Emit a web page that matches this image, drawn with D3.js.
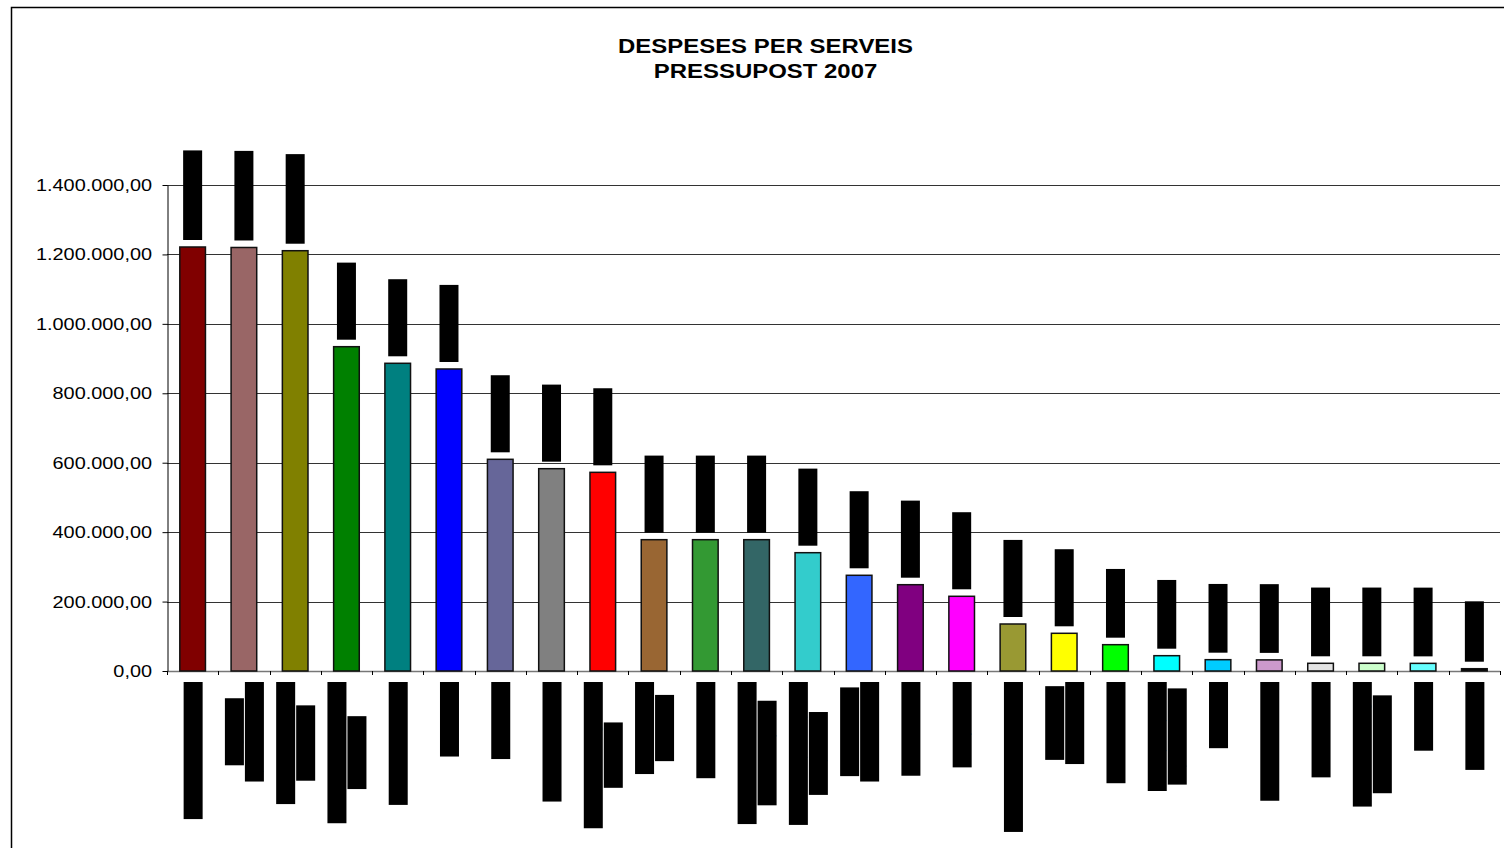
<!DOCTYPE html>
<html>
<head>
<meta charset="utf-8">
<script src="https://cdn.jsdelivr.net/npm/d3@7"></script>
<style>
body { margin: 0; background: #fff; }
text { font-family: "Liberation Sans", Arial, sans-serif; }
</style>
</head>
<body>
<div id="chart"></div>
<script>
var titleLines = ["DESPESES PER SERVEIS", "PRESSUPOST 2007"];

var categories = [
    "Recollida de residus",
    "Seguretat\ni protecció civil",
    "Òrgans de govern\ni secretaria",
    "Acció social, infància\ni gent gran",
    "Manteniment urbà",
    "Urbanisme",
    "Enllumenat",
    "Escola de música",
    "Administració general\ni finances",
    "Medi ambient\ni paisatge",
    "Parcs i jardins",
    "Promoció econòmica\nlocal i ocupació",
    "Joventut, participació\ni cooperació",
    "Comunicació\ni mitjans locals",
    "Ensenyament",
    "Neteja viària",
    "Manteniment d'edificis",
    "Habitatge i\nrehabilitació",
    "Esports i lleure",
    "Transport públic\ni aparcaments",
    "Cementiri",
    "Biblioteca pública",
    "Mercats i fires",
    "Noves tecnologies\ni administració",
    "Solidaritat",
    "Salut pública"
];

var values = [
    1221400, 1220000, 1210700, 934200, 886400, 870000, 609800, 582800, 572300,
    378300, 378300, 378300, 340800, 275700, 248600, 215200, 135400, 108600,
    75800, 44100, 32600, 32000, 22200, 22200, 22000, 6600
];

var colors = [
    "#800000", "#996666", "#808000", "#008000", "#008080", "#0000ff", "#666699",
    "#808080", "#ff0000", "#996633", "#339933", "#336666", "#33cccc", "#3366ff",
    "#800080", "#ff00ff", "#999933", "#ffff00", "#00ff00", "#00ffff", "#00ccff",
    "#cc99cc", "#e3e3e3", "#ccffcc", "#66ffff", "#000000"
];

var yTicks = [0, 200000, 400000, 600000, 800000, 1000000, 1200000, 1400000];

var width = 1504,
    height = 848,
    plot = { left: 167, right: 1500, top: 185, bottom: 671 },
    stretch = 1.15;

var cat = d3.formatLocale({ decimal: ",", thousands: ".", grouping: [3], currency: ["", " €"] });
var fmt = cat.format(",.2f");

var svg = d3.select("#chart")
    .append("svg")
    .attr("width", width)
    .attr("height", height);

svg.append("rect")
    .attr("x", 11.5)
    .attr("y", 7.5)
    .attr("width", 1600)
    .attr("height", 1000)
    .attr("fill", "#fff")
    .attr("stroke", "#000")
    .attr("stroke-width", 1.5);

// the picture is a bit wider than the font, so widen horizontal text
function widen(sel, k) {
    sel.each(function() {
        var len = this.getComputedTextLength();
        d3.select(this)
            .attr("textLength", len * k)
            .attr("lengthAdjust", "spacingAndGlyphs");
    });
}

var title = svg.append("g")
    .selectAll("text")
    .data(titleLines)
    .enter()
    .append("text")
    .attr("x", 765.5)
    .attr("y", function(d, i) { return 53.3 + i * 25; })
    .attr("text-anchor", "middle")
    .style("font-size", "21px")
    .style("font-weight", "bold")
    .text(function(d) { return d; });
widen(title, 1.14);

var x = d3.scaleBand()
    .domain(d3.range(categories.length))
    .range([plot.left, plot.right])
    .paddingInner(0.5)
    .paddingOuter(0.25);

var y = d3.scaleLinear()
    .domain([0, 1400000])
    .range([plot.bottom, plot.top]);

// gridlines
svg.append("g")
    .selectAll("line")
    .data(yTicks.slice(1))
    .enter()
    .append("line")
    .attr("x1", plot.left)
    .attr("x2", plot.right)
    .attr("y1", function(d) { return Math.round(y(d)) + 0.5; })
    .attr("y2", function(d) { return Math.round(y(d)) + 0.5; })
    .attr("stroke", "#333")
    .attr("stroke-width", 1);

// bottom axis line and boundary ticks
var step = x.step();
svg.append("line")
    .attr("x1", plot.left)
    .attr("x2", plot.right)
    .attr("y1", plot.bottom + 0.5)
    .attr("y2", plot.bottom + 0.5)
    .attr("stroke", "#777")
    .attr("stroke-width", 1.5);

svg.append("g")
    .selectAll("line")
    .data(d3.range(categories.length + 1))
    .enter()
    .append("line")
    .attr("x1", function(i) { return Math.round(plot.left + i * step) + 0.5; })
    .attr("x2", function(i) { return Math.round(plot.left + i * step) + 0.5; })
    .attr("y1", plot.bottom)
    .attr("y2", plot.bottom + 4)
    .attr("stroke", "#000");

// y axis
var yAxis = svg.append("g")
    .attr("transform", "translate(" + (plot.left + 0.5) + ",0)")
    .call(d3.axisLeft(y)
        .tickValues(yTicks)
        .tickSize(5)
        .tickSizeOuter(0)
        .tickFormat(fmt));

yAxis.select(".domain").attr("stroke", "#000");
yAxis.selectAll(".tick line").attr("stroke", "#000");
var yLabels = yAxis.selectAll(".tick text")
    .attr("x", -15.5)
    .attr("fill", "#000")
    .style("font-size", "17.3px")
    .style("font-family", "'Liberation Sans', Arial, sans-serif");
widen(yLabels, stretch);

// bars
svg.append("g")
    .selectAll("rect")
    .data(values)
    .enter()
    .append("rect")
    .attr("x", function(d, i) { return x(i); })
    .attr("y", function(d) { return y(d); })
    .attr("width", x.bandwidth())
    .attr("height", function(d) { return y(0) - y(d); })
    .attr("fill", function(d, i) { return colors[i]; })
    .attr("stroke", "#111")
    .attr("stroke-width", 1.5);

// value labels, rotated, on black plates
var valueLabels = svg.append("g")
    .selectAll("g")
    .data(values)
    .enter()
    .append("g")
    .attr("transform", function(d, i) {
        return "translate(" + (x(i) + x.bandwidth() / 2) + "," + (y(d) - 8) + ")rotate(-90)";
    });

valueLabels.each(function(d) {
    var g = d3.select(this);
    var t = g.append("text")
        .attr("x", 0)
        .attr("y", 5.5)
        .style("font-size", "15px")
        .attr("fill", "#000")
        .text(fmt(d));
    var len = t.node().getComputedTextLength();
    g.insert("rect", "text")
        .attr("x", -1)
        .attr("y", -9.5)
        .attr("width", len + 2)
        .attr("height", 19)
        .attr("fill", "#000");
});

// category labels, rotated, on black plates
var catLabels = svg.append("g")
    .selectAll("g")
    .data(categories)
    .enter()
    .append("g")
    .attr("transform", function(d, i) {
        return "translate(" + (x(i) + x.bandwidth() / 2 + 0.5) + "," + (plot.bottom + 11) + ")rotate(-90)";
    });

catLabels.each(function(d) {
    var g = d3.select(this);
    var lines = d.split("\n");
    var n = lines.length;
    var texts = lines.map(function(line, j) {
        return g.append("text")
            .attr("text-anchor", "middle")
            .style("font-size", "15px")
            .attr("fill", "#000")
            .text(line);
    });
    var lens = texts.map(function(t) { return t.node().getComputedTextLength(); });
    var maxLen = d3.max(lens);
    var mid = -(maxLen / 2 + 1);
    texts.forEach(function(t, j) {
        var off = (j - (n - 1) / 2) * 20;
        t.attr("x", mid).attr("y", off + 5.5);
        g.insert("rect", "text")
            .attr("x", mid - lens[j] / 2 - 1)
            .attr("y", off - 9.5)
            .attr("width", lens[j] + 2)
            .attr("height", 19)
            .attr("fill", "#000");
    });
});
</script>
</body>
</html>
